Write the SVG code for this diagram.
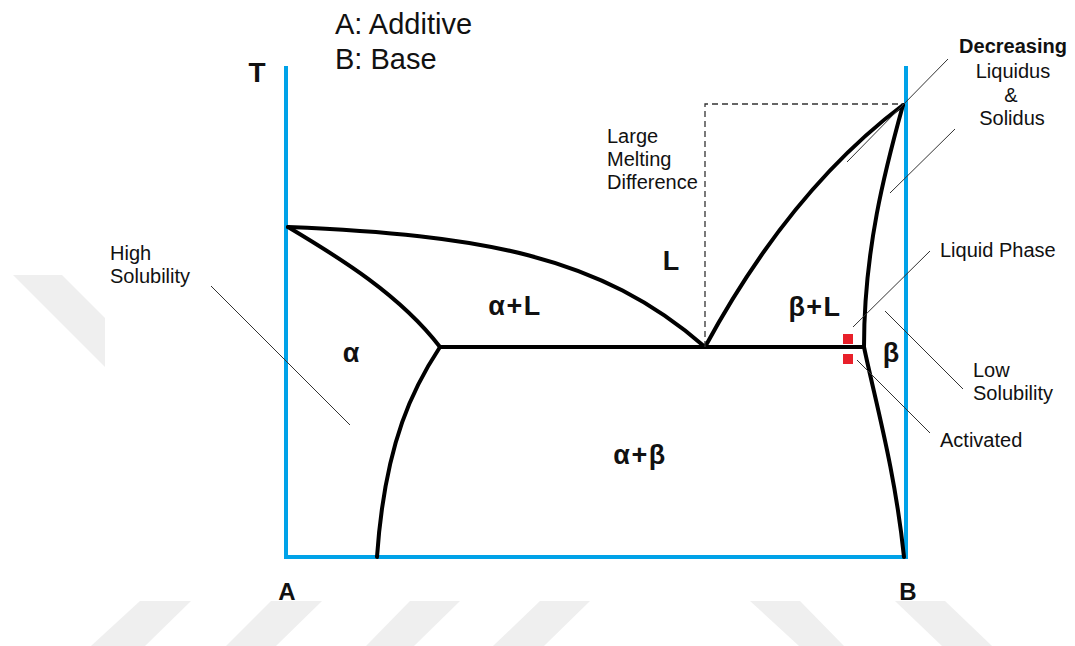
<svg xmlns="http://www.w3.org/2000/svg" width="1075" height="646" viewBox="0 0 1075 646">
<style>
.wm{fill:#efefef}
.axis{fill:none;stroke:#00a2e8;stroke-width:4}
.curve{fill:none;stroke:#000;stroke-width:4;stroke-linejoin:round;stroke-linecap:round}
.dash{fill:none;stroke:#333;stroke-width:1.3;stroke-dasharray:6,4}
.lead{fill:none;stroke:#333;stroke-width:1}
.t{font-family:"Liberation Sans",Arial,sans-serif;fill:#111}
.lbl{font-size:20px}
.ph{font-size:27px;font-weight:bold;text-anchor:middle}
.sp{letter-spacing:1.5px}
.red{fill:#e8202a}
</style>
<g id="watermark">
<polygon class="wm" points="13,275 62,275 105,318 105,367"/>
<polygon class="wm" points="140,601 191,601 145,646 91,646"/>
<polygon class="wm" points="271,601 322,601 276,646 226,646"/>
<polygon class="wm" points="410,601 460,601 414,646 366,646"/>
<polygon class="wm" points="540,601 590,601 544,646 493,646"/>
<polygon class="wm" points="750,601 800,601 844,646 799,646"/>
<polygon class="wm" points="895,601 945,601 992,646 942,646"/>
</g>
<g id="axes">
<path class="axis" d="M286,66 V557 H906 V66"/>
</g>
<g id="phase-curves">
<path class="curve" d="M288,227 C480,235 600,255 705,347"/>
<path class="curve" d="M288,227 C340,258 400,295 440,347"/>
<path class="curve" d="M440,347 C415,385 385,440 377,557"/>
<path class="curve" d="M440,347 H864"/>
<path class="curve" d="M705,347 Q790,190 903,105"/>
<path class="curve" d="M903,105 C885,170 864,250 864,347"/>
<path class="curve" d="M864,347 C875,400 895,470 904,557"/>
</g>
<g id="connectors">
<path class="dash" d="M705,347 V104 H903"/>
<line class="lead" x1="211" y1="286" x2="350" y2="425"/>
<line class="lead" x1="948" y1="59" x2="847" y2="162"/>
<line class="lead" x1="955" y1="129" x2="890" y2="193"/>
<line class="lead" x1="930" y1="251" x2="853" y2="327"/>
<line class="lead" x1="885" y1="311" x2="963" y2="389"/>
<line class="lead" x1="857" y1="360" x2="930" y2="433"/>
</g>
<g id="activated-marks">
<rect class="red" x="843" y="334" width="10" height="10"/>
<rect class="red" x="843" y="354" width="10" height="10"/>
</g>
<g id="legend">
<text class="t" x="335" y="34" font-size="29">A: Additive</text>
<text class="t" x="335" y="69" font-size="29">B: Base</text>
</g>
<g id="axis-labels">
<text class="t" x="257" y="82" font-size="28" font-weight="bold" text-anchor="middle">T</text>
<text class="t" x="287" y="600" font-size="24" font-weight="bold" text-anchor="middle">A</text>
<text class="t" x="908" y="600" font-size="24" font-weight="bold" text-anchor="middle">B</text>
</g>
<g id="phase-labels">
<text class="t ph" x="671" y="270" font-size="29">L</text>
<text class="t ph sp" x="515" y="315">α+L</text>
<text class="t ph" x="351" y="362">α</text>
<text class="t ph sp" x="640" y="464">α+β</text>
<text class="t ph sp" x="815" y="316">β+L</text>
<text class="t ph" x="891" y="362">β</text>
</g>
<g id="annotations">
<text class="t lbl" x="607" y="143">Large</text>
<text class="t lbl" x="607" y="166">Melting</text>
<text class="t lbl" x="607" y="189">Difference</text>
<text class="t lbl" x="110" y="260">High</text>
<text class="t lbl" x="110" y="283">Solubility</text>
<text class="t lbl" x="1013" y="53" font-weight="bold" text-anchor="middle">Decreasing</text>
<text class="t lbl" x="1013" y="78" text-anchor="middle">Liquidus</text>
<text class="t lbl" x="1011" y="102" text-anchor="middle">&amp;</text>
<text class="t lbl" x="1012" y="125" text-anchor="middle">Solidus</text>
<text class="t lbl" x="940" y="257">Liquid Phase</text>
<text class="t lbl" x="973" y="377">Low</text>
<text class="t lbl" x="973" y="400">Solubility</text>
<text class="t lbl" x="940" y="447">Activated</text>
</g>
</svg>
